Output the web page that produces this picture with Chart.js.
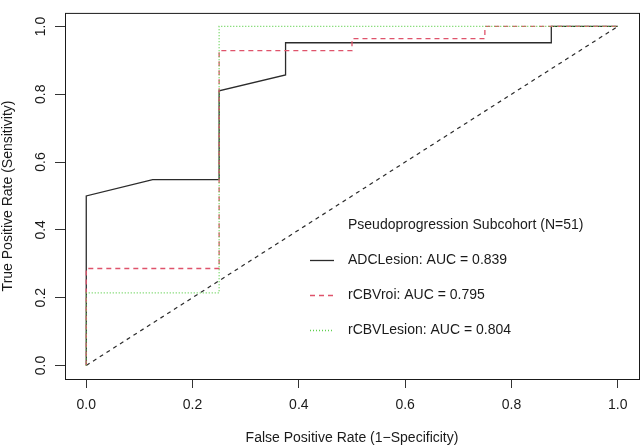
<!DOCTYPE html>
<html>
<head>
<meta charset="utf-8">
<script src="https://cdn.jsdelivr.net/npm/chart.js@4.4.1/dist/chart.umd.min.js"></script>
<style>
  html, body { margin: 0; padding: 0; background: #fff; }
  canvas { display: block; }
</style>
</head>
<body>
<canvas id="roc" width="640" height="447"></canvas>
<script>
const xTicks = [0, 0.2, 0.4, 0.6, 0.8, 1.0];
const yTicks = [0, 0.2, 0.4, 0.6, 0.8, 1.0];

const legendTitle = 'Pseudoprogression Subcohort (N=51)';
const seriesNames = ['ADCLesion: AUC = 0.839', 'rCBVroi: AUC = 0.795', 'rCBVLesion: AUC = 0.804'];

// ROC vertices: false positive rate / true positive rate
const adcFpr = [0, 0, 0.125, 0.25, 0.25, 0.375, 0.375, 0.875, 0.875, 1];
const adcTpr = [0, 0.5, 0.548, 0.548, 0.810, 0.857, 0.952, 0.952, 1, 1];
const roiFpr = [0, 0, 0.25, 0.25, 0.5, 0.5, 0.75, 0.75, 1];
const roiTpr = [0, 0.286, 0.286, 0.929, 0.929, 0.964, 0.964, 1, 1];
const lesFpr = [0, 0, 0.25, 0.25, 1];
const lesTpr = [0, 0.214, 0.214, 1, 1];
const chanceFpr = [0, 1];
const chanceTpr = [0, 1];

const ink = '#1a1a1a';
const pts = (xs, ys) => xs.map((x, i) => ({ x, y: ys[i] }));

Chart.defaults.font.family = "'Liberation Sans', Arial, sans-serif";
Chart.defaults.font.size = 14;
Chart.defaults.color = ink;

// frame around the plot region, like R's box()
const boxPlugin = {
  id: 'box',
  afterDatasetsDraw(chart) {
    const a = chart.chartArea, ctx = chart.ctx;
    ctx.save();
    ctx.strokeStyle = ink;
    ctx.lineWidth = 1;
    ctx.strokeRect(a.left + 0.5, a.top + 0.5, a.width, a.height);
    ctx.restore();
  }
};

// borderless legend inside the plot
const rLegend = {
  id: 'rLegend',
  afterDraw(chart) {
    const ctx = chart.ctx;
    ctx.save();
    ctx.font = "14px 'Liberation Sans', Arial, sans-serif";
    ctx.fillStyle = ink;
    ctx.textBaseline = 'middle';
    ctx.textAlign = 'left';
    ctx.fillText(legendTitle, 348, 225.5);
    chart.data.datasets.slice(0, 3).forEach((ds, i) => {
      const y = 260.5 + i * 35;
      ctx.strokeStyle = ds.borderColor;
      ctx.lineWidth = ds.borderWidth;
      ctx.setLineDash(ds.borderDash || []);
      ctx.beginPath();
      ctx.moveTo(310, Math.round(y) - 0.5);
      ctx.lineTo(334, Math.round(y) - 0.5);
      ctx.stroke();
      ctx.setLineDash([]);
      ctx.fillText(ds.label, 348, y);
    });
    ctx.restore();
  }
};

new Chart(document.getElementById('roc'), {
  type: 'line',
  data: {
    datasets: [
      { label: seriesNames[0], data: pts(adcFpr, adcTpr), borderColor: '#2b2b2b', borderWidth: 1.3, order: 3 },
      { label: seriesNames[1], data: pts(roiFpr, roiTpr), borderColor: '#DF536B', borderWidth: 1.3, borderDash: [5, 4], order: 2 },
      { label: seriesNames[2], data: pts(lesFpr, lesTpr), borderColor: '#61D04F', borderWidth: 1.3, borderDash: [1, 2], order: 1 },
      { label: 'chance', data: pts(chanceFpr, chanceTpr), borderColor: '#2b2b2b', borderWidth: 1.2, borderDash: [4, 4], order: 4 }
    ]
  },
  options: {
    responsive: false,
    animation: false,
    devicePixelRatio: 1,
    layout: { padding: { top: 0, right: 1, bottom: 0, left: 0 } },
    elements: { point: { radius: 0 }, line: { tension: 0, fill: false } },
    plugins: { legend: { display: false }, tooltip: { enabled: false } },
    scales: {
      x: {
        type: 'linear',
        min: -0.04,
        max: 1.04,
        afterBuildTicks: s => { s.ticks = xTicks.map(v => ({ value: v })); },
        afterFit: s => { s.height = 68; },
        ticks: { callback: v => v.toFixed(1), padding: 9, maxRotation: 0, autoSkip: false },
        grid: { drawOnChartArea: false, tickLength: 9, tickColor: '#333' },
        border: { display: false },
        title: { display: true, text: 'False Positive Rate (1\u2212Specificity)', padding: { top: 0, bottom: 0 } }
      },
      y: {
        type: 'linear',
        min: -0.04,
        max: 1.04,
        afterBuildTicks: s => { s.ticks = yTicks.map(v => ({ value: v })); },
        afterFit: s => { s.width = 65; },
        ticks: { callback: v => v.toFixed(1), padding: 4.5, minRotation: 90, maxRotation: 90, crossAlign: 'center', autoSkip: false },
        grid: { drawOnChartArea: false, tickLength: 10, tickColor: '#333' },
        border: { display: false },
        title: { display: true, text: 'True Positive Rate (Sensitivity)', padding: { top: 0, bottom: 0 } }
      }
    }
  },
  plugins: [boxPlugin, rLegend]
});
</script>
</body>
</html>
